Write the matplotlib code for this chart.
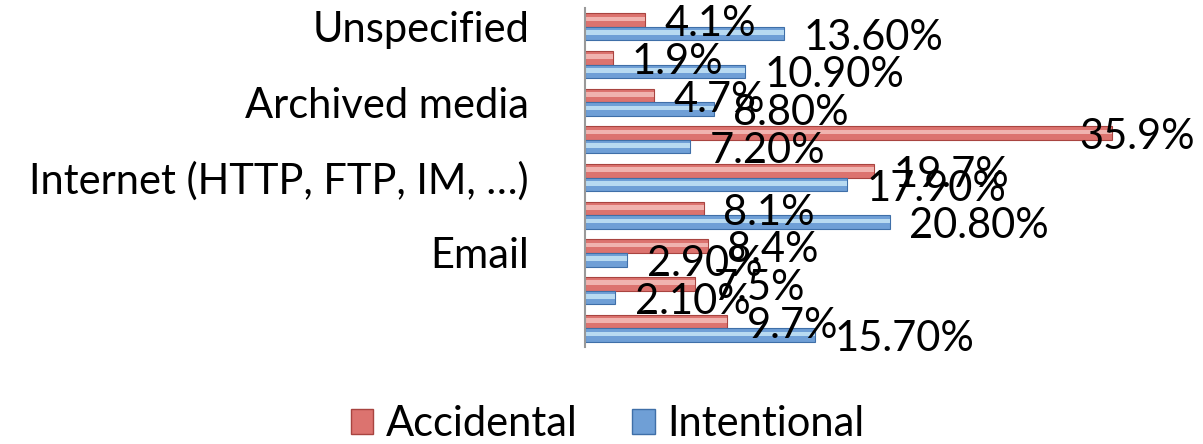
import numpy as np
import matplotlib
matplotlib.use("Agg")
import matplotlib.pyplot as plt
from matplotlib.patches import Patch

plt.rcParams['font.family'] = ['Lato', 'DejaVu Sans']

# categories from top to bottom (only every other label is shown in the chart)
categories = ["Unspecified", "", "Archived media", "", "Internet (HTTP, FTP, IM, \u2026)",
              "", "Email", "", ""]
accidental = [4.1, 1.9, 4.7, 35.9, 19.7, 8.1, 8.4, 7.5, 9.7]
intentional = [13.6, 10.9, 8.8, 7.2, 17.9, 20.8, 2.9, 2.1, 15.7]

red = '#dc736f'
red_dark = '#a84440'
red_light = '#f6c4c0'
blue = '#6f9fd6'
blue_dark = '#3f6fa8'
blue_light = '#cbeaf9'

fs = 30

fig = plt.figure(figsize=(12.03, 4.44), dpi=100, facecolor='white')
ax = fig.add_axes([0.486, 0.218, 0.488, 0.764])

y = np.arange(len(categories))
h = 0.36

# main bars
ax.barh(y - h / 2, accidental, height=h, color=red, edgecolor=red_dark, linewidth=0.8)
ax.barh(y + h / 2, intentional, height=h, color=blue, edgecolor=blue_dark, linewidth=0.8)
# highlight strip to mimic the glossy bevel
ax.barh(y - h / 2 - h * 0.08, accidental, height=h * 0.35, color=red_light, linewidth=0, alpha=0.8)
ax.barh(y + h / 2 - h * 0.08, intentional, height=h * 0.35, color=blue_light, linewidth=0, alpha=0.8)

xmax = 40
for i in range(len(y)):
    # labels that would run past the edge get pulled back over the bar end
    dx = -23 if accidental[i] > 30 else 14
    ax.annotate('%.1f%%' % accidental[i], (accidental[i], y[i] - h / 2), xytext=(dx, -3),
                textcoords='offset points', fontsize=fs, va='center', ha='left')
    ax.annotate('%.2f%%' % intentional[i], (intentional[i], y[i] + h / 2), xytext=(14, -3),
                textcoords='offset points', fontsize=fs, va='center', ha='left')

ax.set_xlim(0, xmax)
ax.set_ylim(len(categories) - 0.5, -0.5)
ax.set_yticks(y)
ax.set_yticklabels(categories, fontsize=fs)
ax.tick_params(axis='y', length=0, pad=40)
ax.set_xticks([])
for s in ['top', 'right', 'bottom']:
    ax.spines[s].set_visible(False)
ax.spines['left'].set_color('#999999')
ax.spines['left'].set_linewidth(1.5)

handles = [Patch(facecolor=red, edgecolor=red_dark, label='Accidental'),
           Patch(facecolor=blue, edgecolor=blue_dark, label='Intentional')]
fig.legend(handles=handles, loc='center', bbox_to_anchor=(0.505, 0.045), ncol=2,
           frameon=False, fontsize=fs, handlelength=0.55, handleheight=0.55,
           handletextpad=0.3, columnspacing=1.3)

fig.savefig('out.png', dpi=100, facecolor='white')
